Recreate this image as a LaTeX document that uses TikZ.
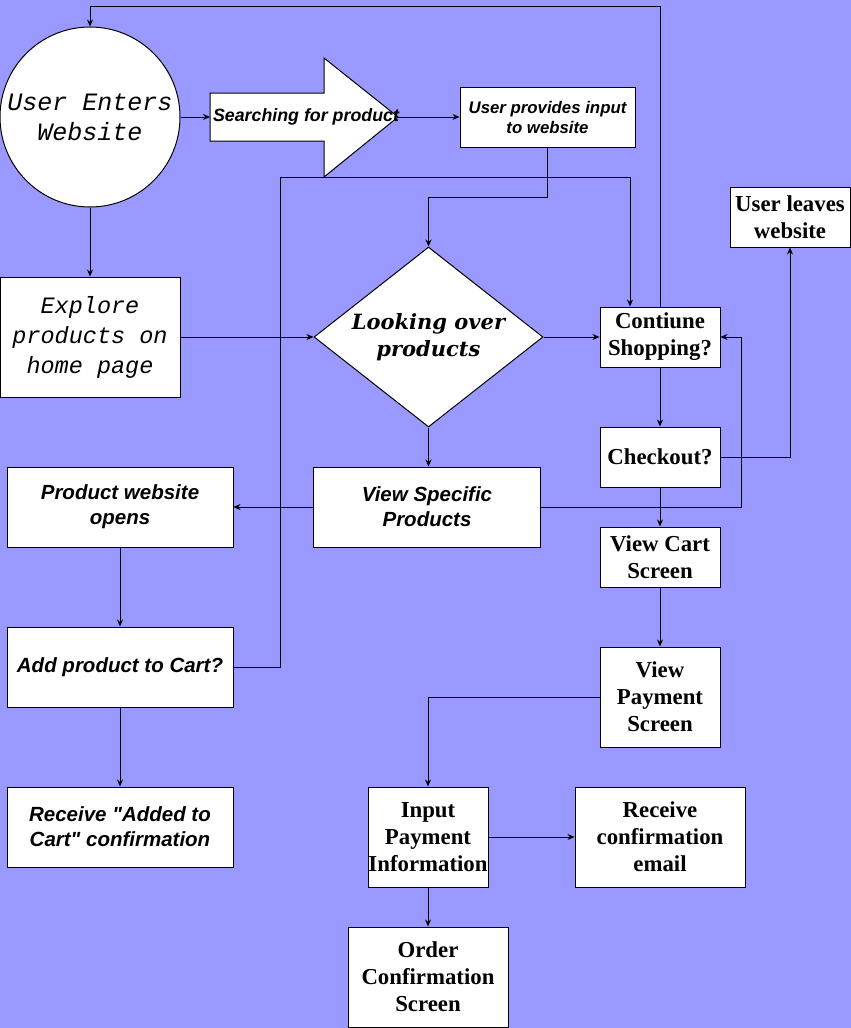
\documentclass[tikz,border=0pt]{standalone}
\usepackage{fontspec}
\setmainfont{Liberation Serif}
\newfontfamily\courierfont{Liberation Mono}
\newfontfamily\arialfont{Liberation Sans}
\newfontfamily\georgiafont{DejaVu Serif}
\usetikzlibrary{shapes.geometric,arrows.meta}
\definecolor{bgblue}{HTML}{9999FF}
\begin{document}
\begin{tikzpicture}[x=1pt,y=-1pt,line width=1pt,>={Stealth[length=7pt,width=6pt]},
  box/.style={draw,fill=white,inner sep=0pt,align=center},
  monotext/.style={font=\courierfont\itshape\fontsize{24}{30}\selectfont},
  sanstext/.style={font=\arialfont\bfseries\itshape\fontsize{20.5}{25}\selectfont},
  seriftext/.style={font=\bfseries\fontsize{22.8}{27}\selectfont}]
\fill[bgblue] (0,0) rectangle (851,1028);
\useasboundingbox (0,0) rectangle (851,1028);

% top row
\node[box,circle,minimum size=180pt,monotext,font=\courierfont\itshape\fontsize{25}{30}\selectfont] (enter) at (90,117) {User Enters\\Website};
\draw[fill=white] (210,93) -- (324,93) -- (324,58) -- (398,117) -- (324,177) -- (324,141) -- (210,141) -- cycle;
\coordinate (searchin) at (210,117);
\coordinate (searchtip) at (398,117);
\node[font=\arialfont\bfseries\itshape\fontsize{17.8}{20}\selectfont] (search) at (306,117) {Searching for product};
\node[box,minimum width=175pt,minimum height=60pt,font=\arialfont\bfseries\itshape\fontsize{16.8}{20}\selectfont] (input) at (547.5,117) {User provides input\\to website};
\node[box,minimum width=120pt,minimum height=60pt,seriftext] (leave) at (790,217) {User leaves\\website};

% middle
\node[box,minimum width=180pt,minimum height=120pt,monotext,font=\courierfont\itshape\fontsize{23.5}{30}\selectfont] (explore) at (90,337) {Explore\\products on\\home page};
\node[box,diamond,aspect=1.27,minimum width=229pt,minimum height=180pt,font=\georgiafont\bfseries\itshape\fontsize{21}{27}\selectfont] (look) at (428.5,337) {Looking over\\products};
\node[box,minimum width=120pt,minimum height=60pt,seriftext] (cont) at (660,337) {Contiune\\Shopping?};
\node[box,minimum width=120pt,minimum height=60pt,seriftext] (check) at (660,457) {Checkout?};
\node[box,minimum width=120pt,minimum height=60pt,seriftext] (cart) at (660,557) {View Cart\\Screen};
\node[box,minimum width=120pt,minimum height=100pt,seriftext] (pay) at (660,697) {View\\Payment\\Screen};
\node[box,minimum width=227pt,minimum height=80pt,sanstext] (view) at (427,507) {View Specific\\Products};

% left column
\node[box,minimum width=226pt,minimum height=80pt,sanstext] (prodweb) at (120,507) {Product website\\opens};
\node[box,minimum width=226pt,minimum height=80pt,sanstext] (addcart) at (120,667) {Add product to Cart?};
\node[box,minimum width=226pt,minimum height=80pt,sanstext] (added) at (120,827) {Receive "Added to\\Cart" confirmation};

% bottom
\node[box,minimum width=120pt,minimum height=100pt,seriftext] (inpay) at (428,837) {Input\\Payment\\Information};
\node[box,minimum width=170pt,minimum height=100pt,seriftext] (email) at (660,837) {Receive\\confirmation\\email};
\node[box,minimum width=160pt,minimum height=100pt,seriftext] (order) at (428,977) {Order\\Confirmation\\Screen};

\draw[->] (enter.east) -- (searchin);
\draw[->] (searchtip) -- (input.west);
\draw[->] (input.south) -- ++(0,50) -| (look.north);
\draw[->] (enter.south) -- (explore.north);
\draw[->] (explore.east) -- (look.west);
\draw[->] (look.east) -- (cont.west);
\draw[->] (look.south) -- (look.south |- view.north);
\draw[->] (view.west) -- (prodweb.east);
\draw[->] (prodweb.south) -- (addcart.north);
\draw[->] (addcart.south) -- (added.north);
\draw[->] (addcart.east) -- ++(47,0) -- ++(0,-490) -| ([xshift=-30pt]cont.north);
\draw[->] (cont.north) -- ++(0,-300) -| (enter.north);
\draw[->] (cont.south) -- (check.north);
\draw[->] (check.east) -| (leave.south);
\draw[->] (check.south) -- (cart.north);
\draw[->] (view.east) -- ++(200,0) |- (cont.east);
\draw[->] (cart.south) -- (pay.north);
\draw[->] (pay.west) -| (inpay.north);
\draw[->] (inpay.east) -- (email.west);
\draw[->] (inpay.south) -- (order.north);
\end{tikzpicture}
\end{document}
